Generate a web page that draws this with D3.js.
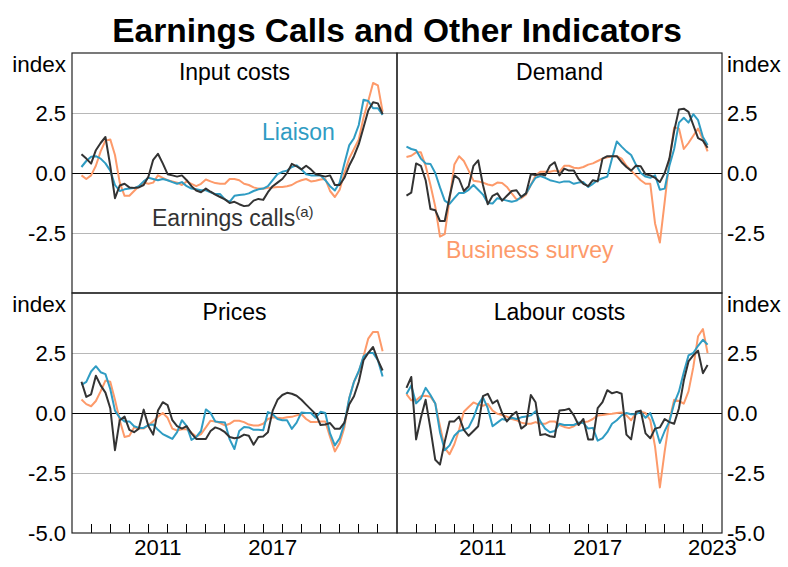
<!DOCTYPE html>
<html>
<head>
<meta charset="utf-8">
<script src="https://cdn.jsdelivr.net/npm/d3@7"></script>
<style>
  body { margin: 0; background: #fff; }
  svg text { font-family: Arial, "Liberation Sans", sans-serif; }
</style>
</head>
<body>
<svg id="chart" width="788" height="567"></svg>
<script>
// quarterly observations, Q3 2007 to Q2 2023
const quarters = d3.timeMonth.every(3).range(new Date(2007, 6, 1), new Date(2023, 4, 1));

const inputEarnings = [0.78, 0.6, 0.39, 0.95, 1.25, 1.5, 0.3, -1.05, -0.52, -0.45,
  -0.6, -0.62, -0.6, -0.5, -0.15, 0.55, 0.8, 0.4, -0.05, -0.1,
  -0.15, -0.1, -0.3, -0.55, -0.73, -0.8, -0.65, -0.78, -0.9, -1.0,
  -1.1, -1.25, -1.2, -1.3, -1.38, -1.35, -1.15, -1.08, -1.12, -0.8,
  -0.55, -0.4, -0.25, 0.0, 0.38, 0.28, 0.15, 0.3, 0.15, -0.05,
  -0.1, -0.15, -0.1, -0.5, -0.5, -0.2, 0.3, 0.7, 1.2, 1.9,
  2.6, 2.95, 2.9, 2.45];
const inputLiaison = [0.25, 0.5, 0.68, 0.7, 0.6, 0.4, 0.1, -0.5, -0.75, -0.68,
  -0.65, -0.63, -0.55, -0.35, -0.2, -0.25, -0.3, -0.25, -0.3, -0.38,
  -0.45, -0.38, -0.55, -0.65, -0.68, -0.72, -0.72, -0.8, -0.88, -0.88,
  -1.1, -1.2, -0.95, -0.92, -0.9, -0.85, -0.75, -0.68, -0.65, -0.55,
  -0.3, -0.05, 0.05, 0.1, 0.25, 0.32, 0.15, -0.05, -0.1, -0.1,
  -0.1, -0.3, -0.55, -0.73, -0.4, 0.4, 1.15, 1.45, 2.0, 3.05,
  3.0, 2.7, 2.7, 2.42];
const inputBusiness = [-0.1, -0.25, -0.1, 0.3, 0.9, 1.35, 1.4, 0.75, -0.4, -0.95,
  -0.95, -0.75, -0.55, -0.4, -0.45, -0.4, -0.1, -0.2, -0.3, -0.35,
  -0.4, -0.5, -0.35, -0.45, -0.55, -0.45, -0.27, -0.35, -0.42, -0.45,
  -0.45, -0.25, -0.25, -0.3, -0.45, -0.5, -0.6, -0.65, -0.66, -0.62,
  -0.6, -0.58, -0.58, -0.55, -0.5, -0.38, -0.3, -0.25, -0.35, -0.32,
  -0.27, -0.25, -0.75, -1.0, -0.7, 0.0, 0.6, 1.0, 1.4, 2.3,
  3.0, 3.75, 3.65, 2.55];

const demandEarnings = [-0.94, -0.82, 0.4, 0.3, -0.3, -1.5, -1.55, -2.0, -2.0, -1.0,
  -0.1, -0.25, -0.75, -0.55, 0.3, 0.53, -0.5, -1.3, -0.95, -0.85,
  -1.15, -0.95, -0.75, -0.72, -1.0, -0.85, -0.05, -0.08, -0.05, -0.1,
  0.3, 0.45, -0.1, 0.18, 0.1, 0.1, -0.25, -0.45, -0.55, -0.3,
  -0.35, 0.6, 0.7, 0.7, 0.7, 0.45, 0.25, 0.1, 0.3, 0.28,
  -0.05, -0.1, -0.2, -0.38, 0.0, 0.6, 1.75, 2.65, 2.68, 2.55,
  2.0, 1.45, 1.35, 1.05];
const demandLiaison = [1.1, 1.0, 0.95, 0.6, 0.4, 0.38, 0.0, -0.6, -1.15, -1.29,
  -1.05, -0.83, -0.83, -0.7, -0.5, -0.7, -0.9, -1.25, -1.27, -1.05,
  -1.1, -1.15, -1.2, -1.15, -1.0, -0.85, -0.5, -0.2, -0.13, -0.2,
  -0.3, -0.35, -0.4, -0.35, -0.35, -0.45, -0.4, -0.38, -0.58, -0.45,
  -0.3, -0.22, -0.15, 0.6, 1.31, 1.1, 0.9, 0.75, 0.35, 0.0,
  -0.15, -0.2, -0.1, -0.7, -0.65, 0.3, 1.0, 2.1, 2.3, 2.1,
  2.45, 2.2, 1.5, 1.17];
const demandBusiness = [0.67, 0.72, 0.86, 0.86, 0.3, -0.5, -1.4, -2.65, -2.55, -1.1,
  0.35, 0.7, 0.5, 0.1, -0.32, -0.35, -0.4, -0.48, -0.52, -0.4,
  -0.42, -0.58, -0.85, -1.1, -1.05, -0.9, -0.5, -0.1, 0.05, 0.05,
  0.05, 0.1, 0.05, 0.3, 0.3, 0.22, 0.2, 0.25, 0.35, 0.4,
  0.5, 0.6, 0.65, 0.7, 0.7, 0.6, 0.3, 0.1, -0.1, -0.3,
  -0.45, -0.45, -2.1, -2.9, -1.2, 0.5, 1.9, 1.85, 1.0, 1.25,
  1.55, 1.85, 1.4, 0.9];

const pricesEarnings = [1.3, 0.67, 0.78, 1.55, 1.15, 0.85, 0.2, -1.55, -0.3, -0.15,
  -0.7, -0.8, -0.65, 0.14, -0.55, -0.9, 0.1, 0.45, 0.33, -0.3,
  -0.55, -0.65, -0.55, -0.85, -1.08, -1.08, -1.08, -0.75, -0.6, -0.67,
  -0.8, -1.0, -1.05, -1.02, -0.9, -0.95, -1.32, -1.0, -0.98, -0.8,
  0.1, 0.55, 0.75, 0.84, 0.8, 0.72, 0.55, 0.35, 0.15, -0.05,
  -0.5, -0.48, -0.42, -0.66, -0.66, -0.4, 0.35, 0.7, 1.3, 2.2,
  2.5, 2.75, 2.2, 1.77];
const pricesLiaison = [1.17, 1.3, 1.73, 1.95, 1.7, 1.62, 1.0, 0.1, -0.2, -0.35,
  -0.35, -0.55, -0.62, -0.62, -0.5, -0.48, -0.7, -0.88, -0.98, -1.08,
  -0.8, -0.3, -0.55, -1.12, -1.0, -0.75, 0.15, 0.0, -0.35, -0.38,
  -0.4, -1.1, -1.5, -0.75, -0.58, -0.6, -0.7, -0.7, -0.72, 0.04,
  -0.05, -0.25, -0.3, -0.3, -0.66, -0.4, 0.02, 0.0, 0.0, -0.2,
  0.05, 0.0, -0.85, -1.35, -1.05, -0.45, 0.6, 1.3, 1.75, 2.35,
  2.5, 2.5, 2.2, 1.52];
const pricesBusiness = [0.56, 0.37, 0.28, 0.5, 0.9, 1.35, 1.3, 0.55, -0.3, -1.0,
  -0.95, -0.6, -0.65, -0.65, -0.5, -0.35, -0.15, 0.0, -0.2, -0.65,
  -0.73, -0.68, -0.68, -0.82, -0.98, -0.88, -0.6, -0.32, -0.35, -0.42,
  -0.52, -0.45, -0.32, -0.32, -0.38, -0.48, -0.52, -0.52, -0.45, -0.25,
  -0.18, -0.2, -0.22, -0.18, -0.16, -0.1, -0.05, -0.25, -0.38, -0.38,
  -0.35, -0.35, -1.0, -1.6, -1.25, -0.6, 0.6, 1.3, 1.72, 2.35,
  3.1, 3.38, 3.38, 2.57];

const labourEarnings = [1.05, 1.5, -1.1, -0.2, 0.55, -0.65, -1.95, -2.15, -1.2, -0.35,
  -0.35, -0.15, -0.7, -0.95, -0.75, -0.55, 0.7, 0.8, 0.4, 0.53,
  0.0, -0.35, -0.1, 0.05, -0.65, -0.5, 0.75, 0.45, -0.92, -0.88,
  -0.97, -1.0, 0.1, 0.12, 0.18, -0.1, -0.5, -0.25, -1.1, -1.1,
  0.2, 0.45, 0.95, 0.82, 0.88, 0.8, -0.9, -1.1, 0.05, 0.1,
  -0.85, -1.05, -0.65, -0.6, -0.25, -0.38, -0.45, 0.2, 1.35, 2.15,
  2.4, 2.6, 1.66, 2.0];
const labourLiaison = [0.79, 1.15, 0.4, 0.6, 1.05, 0.75, 0.4, -0.8, -1.55, -1.35,
  -0.95, -0.75, -0.7, -0.6, -0.2, 0.35, 0.65, 0.2, -0.55, -0.4,
  -0.25, -0.3, -0.2, -0.25, -0.18, -0.15, -0.1, 0.07, -0.35, -0.65,
  -0.8, -0.75, -0.45, -0.5, -0.5, -0.5, -0.4, -0.42, -0.65, -0.62,
  -1.15, -1.05, -0.8, -0.45, -0.3, -0.1, 0.0, -0.05, -0.05, 0.05,
  -0.2, 0.0, -0.55, -1.25, -0.75, -0.35, 0.4, 0.9, 1.7, 2.4,
  2.5, 2.8, 3.05, 2.85];
const labourBusiness = [0.79, 0.53, 0.53, 0.7, 0.72, 0.68, 0.4, -0.55, -1.45, -1.72,
  -1.3, -0.7, 0.05, 0.25, 0.44, 0.35, 0.3, 0.38, 0.1, -0.03,
  -0.08, -0.15, -0.25, -0.3, -0.4, -0.45, -0.45, -0.38, -0.45, -0.45,
  -0.35, -0.35, -0.5, -0.58, -0.63, -0.55, -0.42, -0.38, -0.35, -0.25,
  -0.1, -0.08, -0.05, -0.03, 0.0, 0.02, -0.1, -0.3, 0.0, 0.05,
  0.0, -0.3, -1.4, -3.1, -1.6, -0.3, 0.55, 0.5, 0.39, 0.9,
  1.9, 3.2, 3.5, 2.5];

const panelTitles = ["Input costs", "Demand", "Prices", "Labour costs"];
const yTicksTop = [2.5, 0, -2.5];
const yTicksBottom = [2.5, 0, -2.5, -5];
const xTickYears = d3.range(2008, 2024);
const xLabelsLeft = [2011, 2017];
const xLabelsRight = [2011, 2017, 2023];

const colors = { business: "#fd9a6a", liaison: "#2f9cc3", earnings: "#333333" };

const panels = [
  { title: panelTitles[0], col: 0, row: 0, business: inputBusiness, liaison: inputLiaison, earnings: inputEarnings },
  { title: panelTitles[1], col: 1, row: 0, business: demandBusiness, liaison: demandLiaison, earnings: demandEarnings },
  { title: panelTitles[2], col: 0, row: 1, business: pricesBusiness, liaison: pricesLiaison, earnings: pricesEarnings },
  { title: panelTitles[3], col: 1, row: 1, business: labourBusiness, liaison: labourLiaison, earnings: labourEarnings }
];

const plotLeft = 72, plotTop = 53, pw = 325, ph = 240;
const fmt = d3.formatLocale({ decimal: ".", thousands: ",", grouping: [3], currency: ["", ""], minus: "-" }).format(".1f");

const svg = d3.select("#chart");

svg.append("text")
  .attr("x", 397).attr("y", 42)
  .attr("text-anchor", "middle")
  .style("font-size", "33.5px").style("font-weight", "bold")
  .text("Earnings Calls and Other Indicators");

const x = d3.scaleTime().domain([new Date(2007, 0, 1), new Date(2024, 0, 1)]).range([0, pw]);
const y = d3.scaleLinear().domain([-5, 5]).range([ph, 0]);

const line = d3.line()
  .x((d, i) => x(quarters[i]))
  .y(d => y(d));

panels.forEach(p => {
  const g = svg.append("g")
    .attr("transform", `translate(${plotLeft + p.col * pw},${plotTop + p.row * ph})`);

  // gridlines
  g.selectAll(".grid")
    .data([2.5, -2.5])
    .join("line")
    .attr("x1", 0).attr("x2", pw)
    .attr("y1", d => y(d)).attr("y2", d => y(d))
    .attr("stroke", "#b8b8b8").attr("stroke-width", 1)
    .style("shape-rendering", "crispEdges");

  g.append("line")
    .attr("x1", 0).attr("x2", pw)
    .attr("y1", y(0)).attr("y2", y(0))
    .attr("stroke", "#000").attr("stroke-width", 1)
    .style("shape-rendering", "crispEdges");

  ["business", "liaison", "earnings"].forEach(k => {
    g.append("path")
      .datum(p[k])
      .attr("fill", "none")
      .attr("stroke", colors[k])
      .attr("stroke-width", 2)
      .attr("stroke-linejoin", "round")
      .attr("d", line);
  });

  g.append("text")
    .attr("x", pw / 2).attr("y", 27)
    .attr("text-anchor", "middle")
    .style("font-size", "23px")
    .text(p.title);

  // bottom ticks
  if (p.row === 1) {
    g.selectAll(".xtick")
      .data(xTickYears)
      .join("line")
      .attr("x1", d => x(new Date(d, 0, 1))).attr("x2", d => x(new Date(d, 0, 1)))
      .attr("y1", ph).attr("y2", ph - 9)
      .attr("stroke", "#000").attr("stroke-width", 1)
      .style("shape-rendering", "crispEdges");

    g.selectAll(".xlab")
      .data(p.col === 0 ? xLabelsLeft : xLabelsRight)
      .join("text")
      .attr("x", d => x(new Date(d, 6, 1)))
      .attr("y", ph + 22)
      .attr("text-anchor", "middle")
      .style("font-size", "22px")
      .text(d => d);
  }

  // y axis labels on outer side
  const outer = p.col === 0 ? -6 : pw + 5;
  const anchor = p.col === 0 ? "end" : "start";
  g.selectAll(".ylab")
    .data(p.row === 0 ? yTicksTop : yTicksBottom)
    .join("text")
    .attr("x", outer)
    .attr("y", d => y(d))
    .attr("dy", "0.36em")
    .attr("text-anchor", anchor)
    .style("font-size", "22px")
    .text(d => fmt(d));

  g.append("text")
    .attr("x", outer).attr("y", 19)
    .attr("text-anchor", anchor)
    .style("font-size", "22.5px")
    .text("index");

  g.append("rect")
    .attr("width", pw).attr("height", ph)
    .attr("fill", "none")
    .attr("stroke", "#222").attr("stroke-width", 1.2);
});

// series labels
const g0 = svg.append("g").attr("transform", `translate(${plotLeft},${plotTop})`);
g0.append("text")
  .attr("x", 190).attr("y", 87)
  .style("font-size", "23px")
  .attr("fill", colors.liaison)
  .text("Liaison");
const ec = g0.append("text")
  .attr("x", 80).attr("y", 173)
  .style("font-size", "23px")
  .attr("fill", colors.earnings);
ec.append("tspan").text("Earnings calls");
ec.append("tspan").attr("dy", -9).style("font-size", "15px").text("(a)");

svg.append("text")
  .attr("x", plotLeft + pw + 49).attr("y", plotTop + 205)
  .style("font-size", "23px")
  .attr("fill", colors.business)
  .text("Business survey");
</script>
</body>
</html>
